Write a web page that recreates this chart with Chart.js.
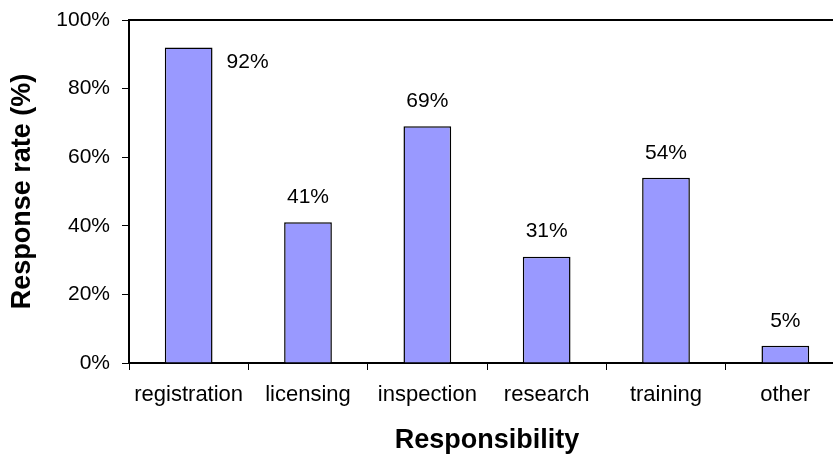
<!DOCTYPE html>
<html>
<head>
<meta charset="utf-8">
<script src="https://cdn.jsdelivr.net/npm/chart.js@4/dist/chart.umd.min.js"></script>
<style>
  html, body { margin: 0; padding: 0; overflow: hidden; background: #fff; }
  #wrap { width: 850px; height: 458px; position: relative; }
</style>
</head>
<body>
<div id="wrap"><canvas id="c"></canvas></div>
<script>
const categories = ['registration', 'licensing', 'inspection', 'research', 'training', 'other'];
const responseRate = [92, 41, 69, 31, 54, 5];
const yTicks = [0, 20, 40, 60, 80, 100];
const xTitle = 'Responsibility';
const yTitle = 'Response rate (%)';

const FONT = '"Liberation Sans", Arial, sans-serif';

const topLine = {
  id: 'topLine',
  afterDraw(chart) {
    const { ctx, chartArea } = chart;
    ctx.save();
    ctx.strokeStyle = '#000';
    ctx.lineWidth = 2;
    ctx.beginPath();
    ctx.moveTo(chartArea.left - 1, chartArea.top);
    ctx.lineTo(chartArea.right, chartArea.top);
    ctx.stroke();
    ctx.restore();
  }
};

const valueLabels = {
  id: 'valueLabels',
  afterDatasetsDraw(chart) {
    const { ctx } = chart;
    const meta = chart.getDatasetMeta(0);
    const yScale = chart.scales.y;
    ctx.save();
    ctx.fillStyle = '#000';
    ctx.font = '21px ' + FONT;
    ctx.textBaseline = 'middle';
    meta.data.forEach((bar, i) => {
      const v = chart.data.datasets[0].data[i];
      const text = v + '%';
      const top = yScale.getPixelForValue(v);
      if (top - 25 < chart.chartArea.top + 8) {
        ctx.textAlign = 'left';
        ctx.fillText(text, bar.x + bar.width / 2 + 14, top + 15);
      } else {
        ctx.textAlign = 'center';
        ctx.fillText(text, bar.x, top - 25);
      }
    });
    ctx.restore();
  }
};

new Chart(document.getElementById('c'), {
  type: 'bar',
  data: {
    labels: categories,
    datasets: [{
      data: responseRate,
      backgroundColor: '#9999FF',
      borderColor: '#000000',
      borderWidth: 1.5,
      barPercentage: 0.4,
      categoryPercentage: 1.0
    }]
  },
  options: {
    responsive: true,
    maintainAspectRatio: false,
    animation: false,
    devicePixelRatio: 1,
    layout: { padding: { top: 20, right: 5, bottom: 0, left: 0 } },
    plugins: {
      legend: { display: false },
      tooltip: { enabled: false }
    },
    scales: {
      x: {
        offset: true,
        grid: {
          offset: true,
          drawOnChartArea: false,
          drawTicks: true,
          tickLength: 7,
          color: '#000',
          lineWidth: 1
        },
        border: { display: true, color: '#000', width: 2 },
        ticks: {
          color: '#000',
          font: { family: FONT, size: 22 },
          padding: 12,
          maxRotation: 0,
          autoSkip: false
        },
        title: {
          display: true,
          text: xTitle,
          color: '#000',
          font: { family: FONT, size: 27, weight: 'bold' },
          padding: { top: 0, bottom: 1 }
        },
        afterFit(scale) { scale.height = 95; scale.paddingLeft = 0; scale.paddingRight = 0; }
      },
      y: {
        min: 0,
        max: 100,
        afterBuildTicks(scale) { scale.ticks = yTicks.map(v => ({ value: v })); },
        grid: {
          drawOnChartArea: false,
          drawTicks: true,
          tickLength: 7,
          color: '#000',
          lineWidth: 1
        },
        border: { display: true, color: '#000', width: 2 },
        ticks: {
          color: '#000',
          font: { family: FONT, size: 21 },
          padding: 12,
          callback: v => v + '%'
        },
        title: {
          display: true,
          text: yTitle,
          color: '#000',
          font: { family: FONT, size: 27, weight: 'bold' },
          padding: { top: 6, bottom: 0 }
        },
        afterFit(scale) { scale.width = 129; scale.paddingTop = 0; scale.paddingBottom = 0; }
      }
    }
  },
  plugins: [topLine, valueLabels]
});
</script>
</body>
</html>
